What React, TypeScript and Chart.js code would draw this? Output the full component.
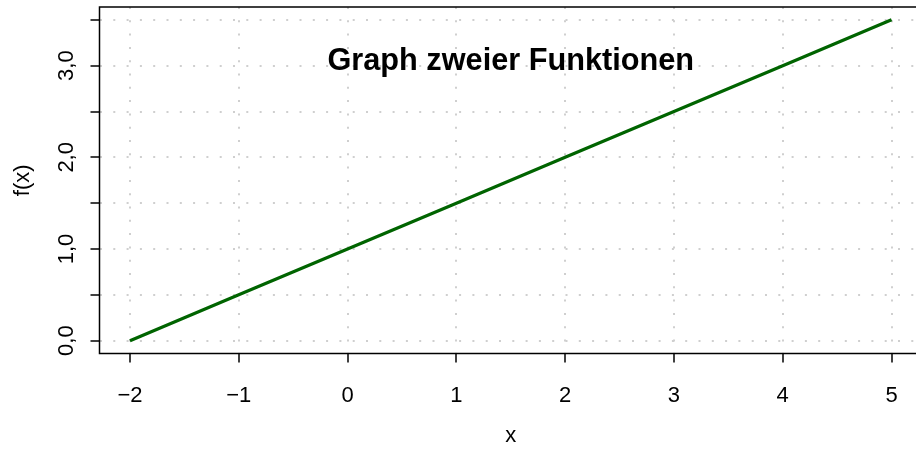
import React, { useEffect, useRef } from 'react';
import { Chart, registerables } from 'chart.js';

Chart.register(...registerables);

// ---- data ----
const xValues = [-2, -1, 0, 1, 2, 3, 4, 5];
const fValues = [0, 0.5, 1, 1.5, 2, 2.5, 3, 3.5];
const xTicks = [-2, -1, 0, 1, 2, 3, 4, 5];
const xTickLabels = ['\u22122', '\u22121', '0', '1', '2', '3', '4', '5'];
const yTicks = [0, 0.5, 1, 1.5, 2, 2.5, 3, 3.5];
const yTickLabels = ['0,0', '', '1,0', '', '2,0', '', '3,0', ''];
const titleText = 'Graph zweier Funktionen';
const xAxisTitle = 'x';
const yAxisTitle = 'f(x)';
const xRange = [-2.28, 5.28];
const yRange = [-0.14, 3.64];

const FONT = '"Liberation Sans", Arial, Helvetica, sans-serif';

const rPlot = {
  id: 'rPlot',
  afterDraw(chart: any) {
    const { ctx, chartArea } = chart;
    const xs = chart.scales.x;
    const ys = chart.scales.y;
    const { left, right, top, bottom } = chartArea;
    ctx.save();
    // box
    ctx.strokeStyle = '#000';
    ctx.lineWidth = 1.5;
    ctx.setLineDash([]);
    ctx.strokeRect(left, top, right - left, bottom - top);

    ctx.fillStyle = '#000';
    ctx.font = `22px ${FONT}`;
    // x tick labels
    ctx.textAlign = 'center';
    ctx.textBaseline = 'alphabetic';
    xTicks.forEach((v, i) => {
      ctx.fillText(xTickLabels[i], xs.getPixelForValue(v), bottom + 48);
    });
    // x axis title
    const cx = (left + right) / 2;
    ctx.fillText(xAxisTitle, cx, bottom + 88);
    // y tick labels (rotated)
    yTicks.forEach((v, i) => {
      if (!yTickLabels[i]) return;
      ctx.save();
      ctx.translate(left - 27, ys.getPixelForValue(v));
      ctx.rotate(-Math.PI / 2);
      ctx.fillText(yTickLabels[i], 0, 0);
      ctx.restore();
    });
    // y axis title
    ctx.save();
    ctx.translate(left - 71, (top + bottom) / 2);
    ctx.rotate(-Math.PI / 2);
    ctx.fillText(yAxisTitle, 0, 0);
    ctx.restore();
    // main title
    ctx.font = `bold 30.7px ${FONT}`;
    ctx.fillText(titleText, cx, top + 63);
    ctx.restore();
  },
};

const gridOpts = {
  color: '#cfcfcf',
  lineWidth: 2,
  drawTicks: true,
  tickLength: 9,
  tickColor: '#000',
  tickWidth: 1.5,
  tickBorderDash: [],
};
const borderOpts = { display: false, dash: [2, 11.3], dashOffset: 0 };

export default function App() {
  const ref = useRef<HTMLCanvasElement | null>(null);
  useEffect(() => {
    if (!ref.current) return;
    const chart = new Chart(ref.current, {
      type: 'line',
      data: {
        datasets: [
          {
            data: xValues.map((x, i) => ({ x, y: fValues[i] })),
            borderColor: '#006400',
            borderWidth: 3.2,
            pointRadius: 0,
            fill: false,
            tension: 0,
          },
        ],
      },
      options: {
        animation: false,
        responsive: false,
        events: [],
        layout: { padding: { left: 0, top: 7, right: 18, bottom: 0 } },
        plugins: { legend: { display: false }, tooltip: { enabled: false }, title: { display: false } },
        scales: {
          x: {
            type: 'linear',
            min: xRange[0],
            max: xRange[1],
            afterBuildTicks: (s: any) => {
              s.ticks = xTicks.map((v) => ({ value: v }));
            },
            afterFit: (s: any) => {
              s.height = 98.5;
            },
            ticks: { display: false },
            border: borderOpts,
            grid: gridOpts,
          },
          y: {
            type: 'linear',
            min: yRange[0],
            max: yRange[1],
            afterBuildTicks: (s: any) => {
              s.ticks = yTicks.map((v) => ({ value: v }));
            },
            afterFit: (s: any) => {
              s.width = 99.5;
            },
            ticks: { display: false },
            border: borderOpts,
            grid: gridOpts,
          },
        },
      },
      plugins: [rPlot],
    });
    return () => chart.destroy();
  }, []);
  return (
    <div style={{ position: 'fixed', left: 0, top: 0, width: 916, height: 452, overflow: 'hidden', background: '#fff' }}>
      <canvas ref={ref} width={940} height={452} style={{ display: 'block' }} />
    </div>
  );
}
